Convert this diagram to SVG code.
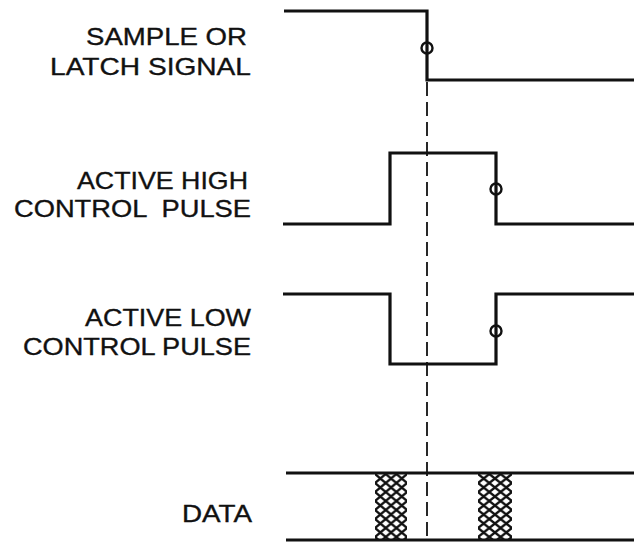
<svg xmlns="http://www.w3.org/2000/svg" width="634" height="542" viewBox="0 0 634 542">
<style>
.lbl{font-family:"Liberation Sans",Arial,sans-serif;font-size:24px;fill:#111;stroke:#111;stroke-width:0.35;white-space:pre}
.sig{fill:none;stroke:#111;stroke-width:3.2;stroke-linejoin:miter}
.ring{fill:none;stroke:#111;stroke-width:2.4}
.ref{stroke:#111;stroke-width:1.8;stroke-dasharray:14 6}
</style>
<defs>
<pattern id="hatch" patternUnits="userSpaceOnUse" x="375" y="474" width="10.7" height="9">
<rect width="10.7" height="9" fill="#fff"/>
<path d="M0,0 L10.7,9 M10.7,0 L0,9" stroke="#111" stroke-width="2.4"/>
</pattern>
<pattern id="hatch2" patternUnits="userSpaceOnUse" x="478" y="474" width="11.3" height="9">
<rect width="11.3" height="9" fill="#fff"/>
<path d="M0,0 L11.3,9 M11.3,0 L0,9" stroke="#111" stroke-width="2.4"/>
</pattern>
</defs>
<rect width="634" height="542" fill="#fff"/>

<g id="sample">
<text class="lbl" x="86" y="45" textLength="161" lengthAdjust="spacingAndGlyphs">SAMPLE OR</text>
<text class="lbl" x="50" y="75" textLength="201" lengthAdjust="spacingAndGlyphs">LATCH SIGNAL</text>
<path class="sig" d="M284,11 H427 V80 H634"/>
<circle class="ring" cx="427" cy="48" r="5.5"/>
</g>

<g id="active-high">
<text class="lbl" x="77" y="189" textLength="171" lengthAdjust="spacingAndGlyphs">ACTIVE HIGH</text>
<text class="lbl" x="14" y="217" textLength="237" lengthAdjust="spacingAndGlyphs">CONTROL  PULSE</text>
<path class="sig" d="M283,224 H390 V153 H496 V224 H634"/>
<circle class="ring" cx="496" cy="189" r="5.5"/>
</g>

<g id="active-low">
<text class="lbl" x="85" y="326" textLength="166" lengthAdjust="spacingAndGlyphs">ACTIVE LOW</text>
<text class="lbl" x="23" y="355" textLength="228" lengthAdjust="spacingAndGlyphs">CONTROL PULSE</text>
<path class="sig" d="M283,294 H390 V364 H496 V294 H634"/>
<circle class="ring" cx="496" cy="331" r="5.5"/>
</g>

<g id="data">
<text class="lbl" x="182" y="522" textLength="70" lengthAdjust="spacingAndGlyphs">DATA</text>
<rect x="375" y="474" width="32" height="65" fill="url(#hatch)"/>
<rect x="478" y="474" width="34" height="65" fill="url(#hatch2)"/>
<path class="sig" d="M286,473 H634"/>
<path class="sig" d="M286,540 H634"/>
</g>

<g id="connectors">
<line class="ref" x1="427" y1="82" x2="427" y2="542"/>
</g>
</svg>
